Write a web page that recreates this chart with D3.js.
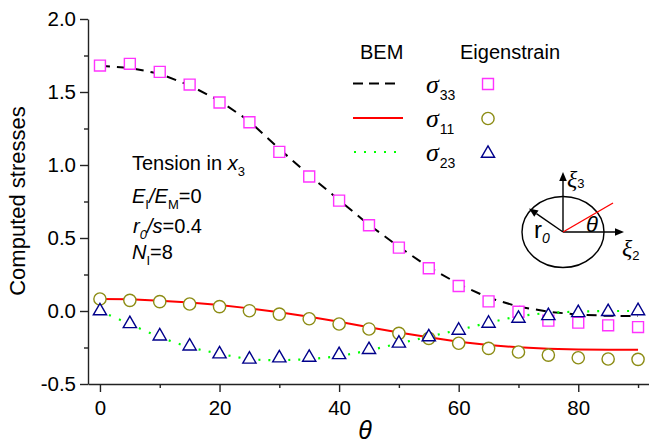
<!DOCTYPE html>
<html><head><meta charset="utf-8">
<script src="https://cdn.jsdelivr.net/npm/d3@7"></script>
<style>
body{margin:0;background:#fff}
svg{display:block}
text{font-family:"Liberation Sans",Arial,sans-serif;fill:#000}
</style>
</head><body>
<svg id="c" width="649" height="444"></svg>
<script>
// ---- data ----
const theta = [0,5,10,15,20,25,30,35,40,45,50,55,60,65,70,75,80,85,90];
const bem33 = [1.68,1.665,1.625,1.545,1.44,1.30,1.11,0.93,0.76,0.59,0.44,0.30,0.185,0.09,0.03,-0.005,-0.025,-0.033,-0.035];
const bem11 = [0.082,0.08,0.07,0.058,0.041,0.018,-0.009,-0.039,-0.073,-0.112,-0.148,-0.18,-0.21,-0.233,-0.249,-0.258,-0.263,-0.265,-0.265];
const bem23 = [0,-0.09,-0.18,-0.25,-0.293,-0.332,-0.338,-0.33,-0.31,-0.27,-0.222,-0.176,-0.13,-0.08,-0.035,-0.012,-0.004,0,0];
const eig33 = [1.681,1.693,1.638,1.551,1.428,1.293,1.090,0.921,0.756,0.587,0.434,0.293,0.171,0.066,-0.005,-0.066,-0.080,-0.098,-0.110];
const eig11 = [0.082,0.073,0.064,0.048,0.030,0.002,-0.021,-0.053,-0.089,-0.123,-0.153,-0.187,-0.221,-0.256,-0.281,-0.302,-0.320,-0.329,-0.331];
const eig23 = [0,-0.088,-0.172,-0.241,-0.295,-0.331,-0.322,-0.318,-0.300,-0.265,-0.221,-0.178,-0.133,-0.085,-0.051,-0.033,-0.012,-0.005,0.001];
const xTicks = [0,20,40,60,80];
const xTickLabels = ["0","20","40","60","80"];
const xMinor = [10,30,50,70,90];
const yTicks = [-0.5,0,0.5,1,1.5,2];
const yTickLabels = ["-0.5","0.0","0.5","1.0","1.5","2.0"];
const yMinor = [-0.25,0.25,0.75,1.25,1.75];

const svg = d3.select("#c");
const x = d3.scaleLinear().domain([-2,92]).range([88,650]);
const y = d3.scaleLinear().domain([-0.5,2.0]).range([384,19]);
const SANS = '"Liberation Sans",Arial,sans-serif';
const SERIF = '"Liberation Serif","Times New Roman",serif';

// ---- axes ----
svg.append("g").attr("transform","translate(88,0)")
  .call(d3.axisLeft(y).tickValues(yTicks).tickFormat((d,i)=>yTickLabels[i]).tickSize(8).tickSizeOuter(0).tickPadding(4));
svg.append("g").attr("transform","translate(88,0)")
  .call(d3.axisLeft(y).tickValues(yMinor).tickFormat("").tickSize(4).tickSizeOuter(0))
  .select(".domain").remove();
svg.append("g").attr("transform","translate(0,384)")
  .call(d3.axisBottom(x).tickValues(xTicks).tickFormat((d,i)=>xTickLabels[i]).tickSize(8).tickSizeOuter(0).tickPadding(8));
svg.append("g").attr("transform","translate(0,384)")
  .call(d3.axisBottom(x).tickValues(xMinor).tickFormat("").tickSize(4).tickSizeOuter(0))
  .select(".domain").remove();
svg.selectAll(".domain, .tick line").attr("stroke","#222").attr("stroke-width",1.4);
svg.selectAll(".tick text").attr("font-family",SANS).attr("font-size",20.5).attr("fill","#000");

// axis titles
svg.append("text").attr("transform","translate(25,201) rotate(-90)").attr("text-anchor","middle")
  .attr("font-size",22).text("Computed stresses");
svg.append("text").attr("x",365).attr("y",439).attr("text-anchor","middle")
  .attr("font-family",SERIF).attr("font-style","italic").attr("font-size",25).text("θ");

// ---- lines ----
const pts = arr => theta.map((t,i)=>[t,arr[i]]);
const line = d3.line().x(d=>x(d[0])).y(d=>y(d[1]));
svg.append("path").attr("d",line(pts(bem33))).attr("fill","none").attr("stroke","#000")
  .attr("stroke-width",2).attr("stroke-dasharray","10,7");
svg.append("path").attr("d",line(pts(bem11))).attr("fill","none").attr("stroke","#ff0000")
  .attr("stroke-width",2);
// dotted line: two dots per segment between data points
const p23 = pts(bem23);
for(let i=0;i<p23.length-1;i++){
  const a=p23[i], b=p23[i+1];
  const L=Math.hypot(x(b[0])-x(a[0]), y(b[1])-y(a[1]));
  svg.append("path").attr("d",line([a,b])).attr("fill","none").attr("stroke","#00ff00")
    .attr("stroke-width",2.2).attr("stroke-dasharray",`0,${L/3-1},2,${L/3-2},2,${L}`);
}

// ---- symbols ----
const sq = d3.symbol().type(d3.symbolSquare).size(120);
const ci = d3.symbol().type(d3.symbolCircle).size(118);
const tr = d3.symbol().type(d3.symbolTriangle).size(76);
function drawSym(arr, gen, color){
  svg.append("g").selectAll("path").data(pts(arr)).join("path")
    .attr("transform",d=>`translate(${x(d[0])},${y(d[1])})`)
    .attr("d",gen()).attr("fill","#fff").attr("stroke",color).attr("stroke-width",1.4);
}
drawSym(eig33, sq, "#ff33ff");
drawSym(eig11, ci, "#8c8c14");
drawSym(eig23, tr, "#00008b");

// ---- legend ----
svg.append("text").attr("x",360).attr("y",59).attr("font-size",20).text("BEM");
svg.append("text").attr("x",460).attr("y",59).attr("font-size",20).text("Eigenstrain");
const legRows = [
  {sub:"33", ly:83.5, dash:"10,6", col:"#000", w:2, sym:sq, sc:"#ff33ff"},
  {sub:"11", ly:118, dash:null, col:"#ff0000", w:2, sym:ci, sc:"#8c8c14"},
  {sub:"23", ly:152, dash:"2,8", col:"#00ff00", w:2.2, sym:tr, sc:"#00008b"}
];
legRows.forEach((r,i)=>{
  const l = svg.append("line").attr("x1",353).attr("x2",i==2?397:(i==0?395:403)).attr("y1",r.ly).attr("y2",r.ly)
    .attr("stroke",r.col).attr("stroke-width",r.w);
  if(r.dash) l.attr("stroke-dasharray",r.dash);
  if(i==2) l.attr("x1",354);
  const t = svg.append("text").attr("x",426).attr("y",r.ly+9);
  t.append("tspan").attr("font-family",SERIF).attr("font-style","italic").attr("font-size",26).text("σ");
  t.append("tspan").attr("font-size",14).attr("dy",7).attr("dx",1).text(r.sub);
  svg.append("path").attr("transform",`translate(488,${r.ly+(i==2?1.5:0.5)})`)
    .attr("d",r.sym()).attr("fill","#fff").attr("stroke",r.sc).attr("stroke-width",1.4);
});

// ---- annotation text ----
function sub(t, s, italic){ t.append("tspan").attr("font-size",13).attr("dy",6).attr("font-style",italic?"italic":null).text(s); }
let t1 = svg.append("text").attr("x",132).attr("y",170).attr("font-size",20);
t1.append("tspan").text("Tension in ");
t1.append("tspan").attr("font-style","italic").text("x");
sub(t1,"3");
let t2 = svg.append("text").attr("x",132).attr("y",203).attr("font-size",20);
t2.append("tspan").attr("font-style","italic").text("E");
sub(t2,"I");
t2.append("tspan").attr("dy",-6).attr("font-style","italic").text("/E");
sub(t2,"M");
t2.append("tspan").attr("dy",-6).text("=0");
let t3 = svg.append("text").attr("x",133).attr("y",233).attr("font-size",20);
t3.append("tspan").attr("font-style","italic").text("r");
sub(t3,"0",true);
t3.append("tspan").attr("dy",-6).attr("font-style","italic").text("/s");
t3.append("tspan").text("=0.4");
let t4 = svg.append("text").attr("x",132).attr("y",259).attr("font-size",20);
t4.append("tspan").attr("font-style","italic").text("N");
sub(t4,"I");
t4.append("tspan").attr("dy",-6).text("=8");

// ---- inset diagram ----
const cx=563, cy=232;
const ins = svg.append("g");
ins.append("ellipse").attr("cx",cx).attr("cy",cy).attr("rx",41).attr("ry",35.5)
  .attr("fill","none").attr("stroke","#000").attr("stroke-width",1.4);
function arrow(x1,y1,x2,y2){
  const a=Math.atan2(y2-y1,x2-x1), L=9, W=3.8;
  const bx=x2-L*Math.cos(a), by=y2-L*Math.sin(a);
  ins.append("line").attr("x1",x1).attr("y1",y1).attr("x2",bx).attr("y2",by).attr("stroke","#000").attr("stroke-width",1.4);
  ins.append("path").attr("d",`M${x2},${y2}L${bx-W*Math.sin(a)},${by+W*Math.cos(a)}L${bx+W*Math.sin(a)},${by-W*Math.cos(a)}Z`).attr("fill","#000");
}
arrow(cx,cy,cx,172);
arrow(cx,cy,624,cy);
arrow(cx,cy,529,208.5);
ins.append("line").attr("x1",cx).attr("y1",cy).attr("x2",613).attr("y2",203).attr("stroke","#ff0000").attr("stroke-width",1.4);
let xi3 = ins.append("text").attr("x",567).attr("y",187).attr("font-size",24);
xi3.append("tspan").attr("font-family",SERIF).attr("font-style","italic").text("ξ");
xi3.append("tspan").attr("font-size",13).attr("dy",1).text("3");
let xi2 = ins.append("text").attr("x",622).attr("y",256).attr("font-size",24);
xi2.append("tspan").attr("font-family",SERIF).attr("font-style","italic").text("ξ");
xi2.append("tspan").attr("font-size",13).attr("dy",4).text("2");
ins.append("text").attr("x",586).attr("y",232).attr("font-family",SERIF).attr("font-style","italic").attr("font-size",22).text("θ");
let r0 = ins.append("text").attr("x",534).attr("y",238).attr("font-size",24);
r0.append("tspan").text("r");
r0.append("tspan").attr("font-size",14).attr("font-style","italic").attr("dy",5).text("0");
</script>
</body></html>
